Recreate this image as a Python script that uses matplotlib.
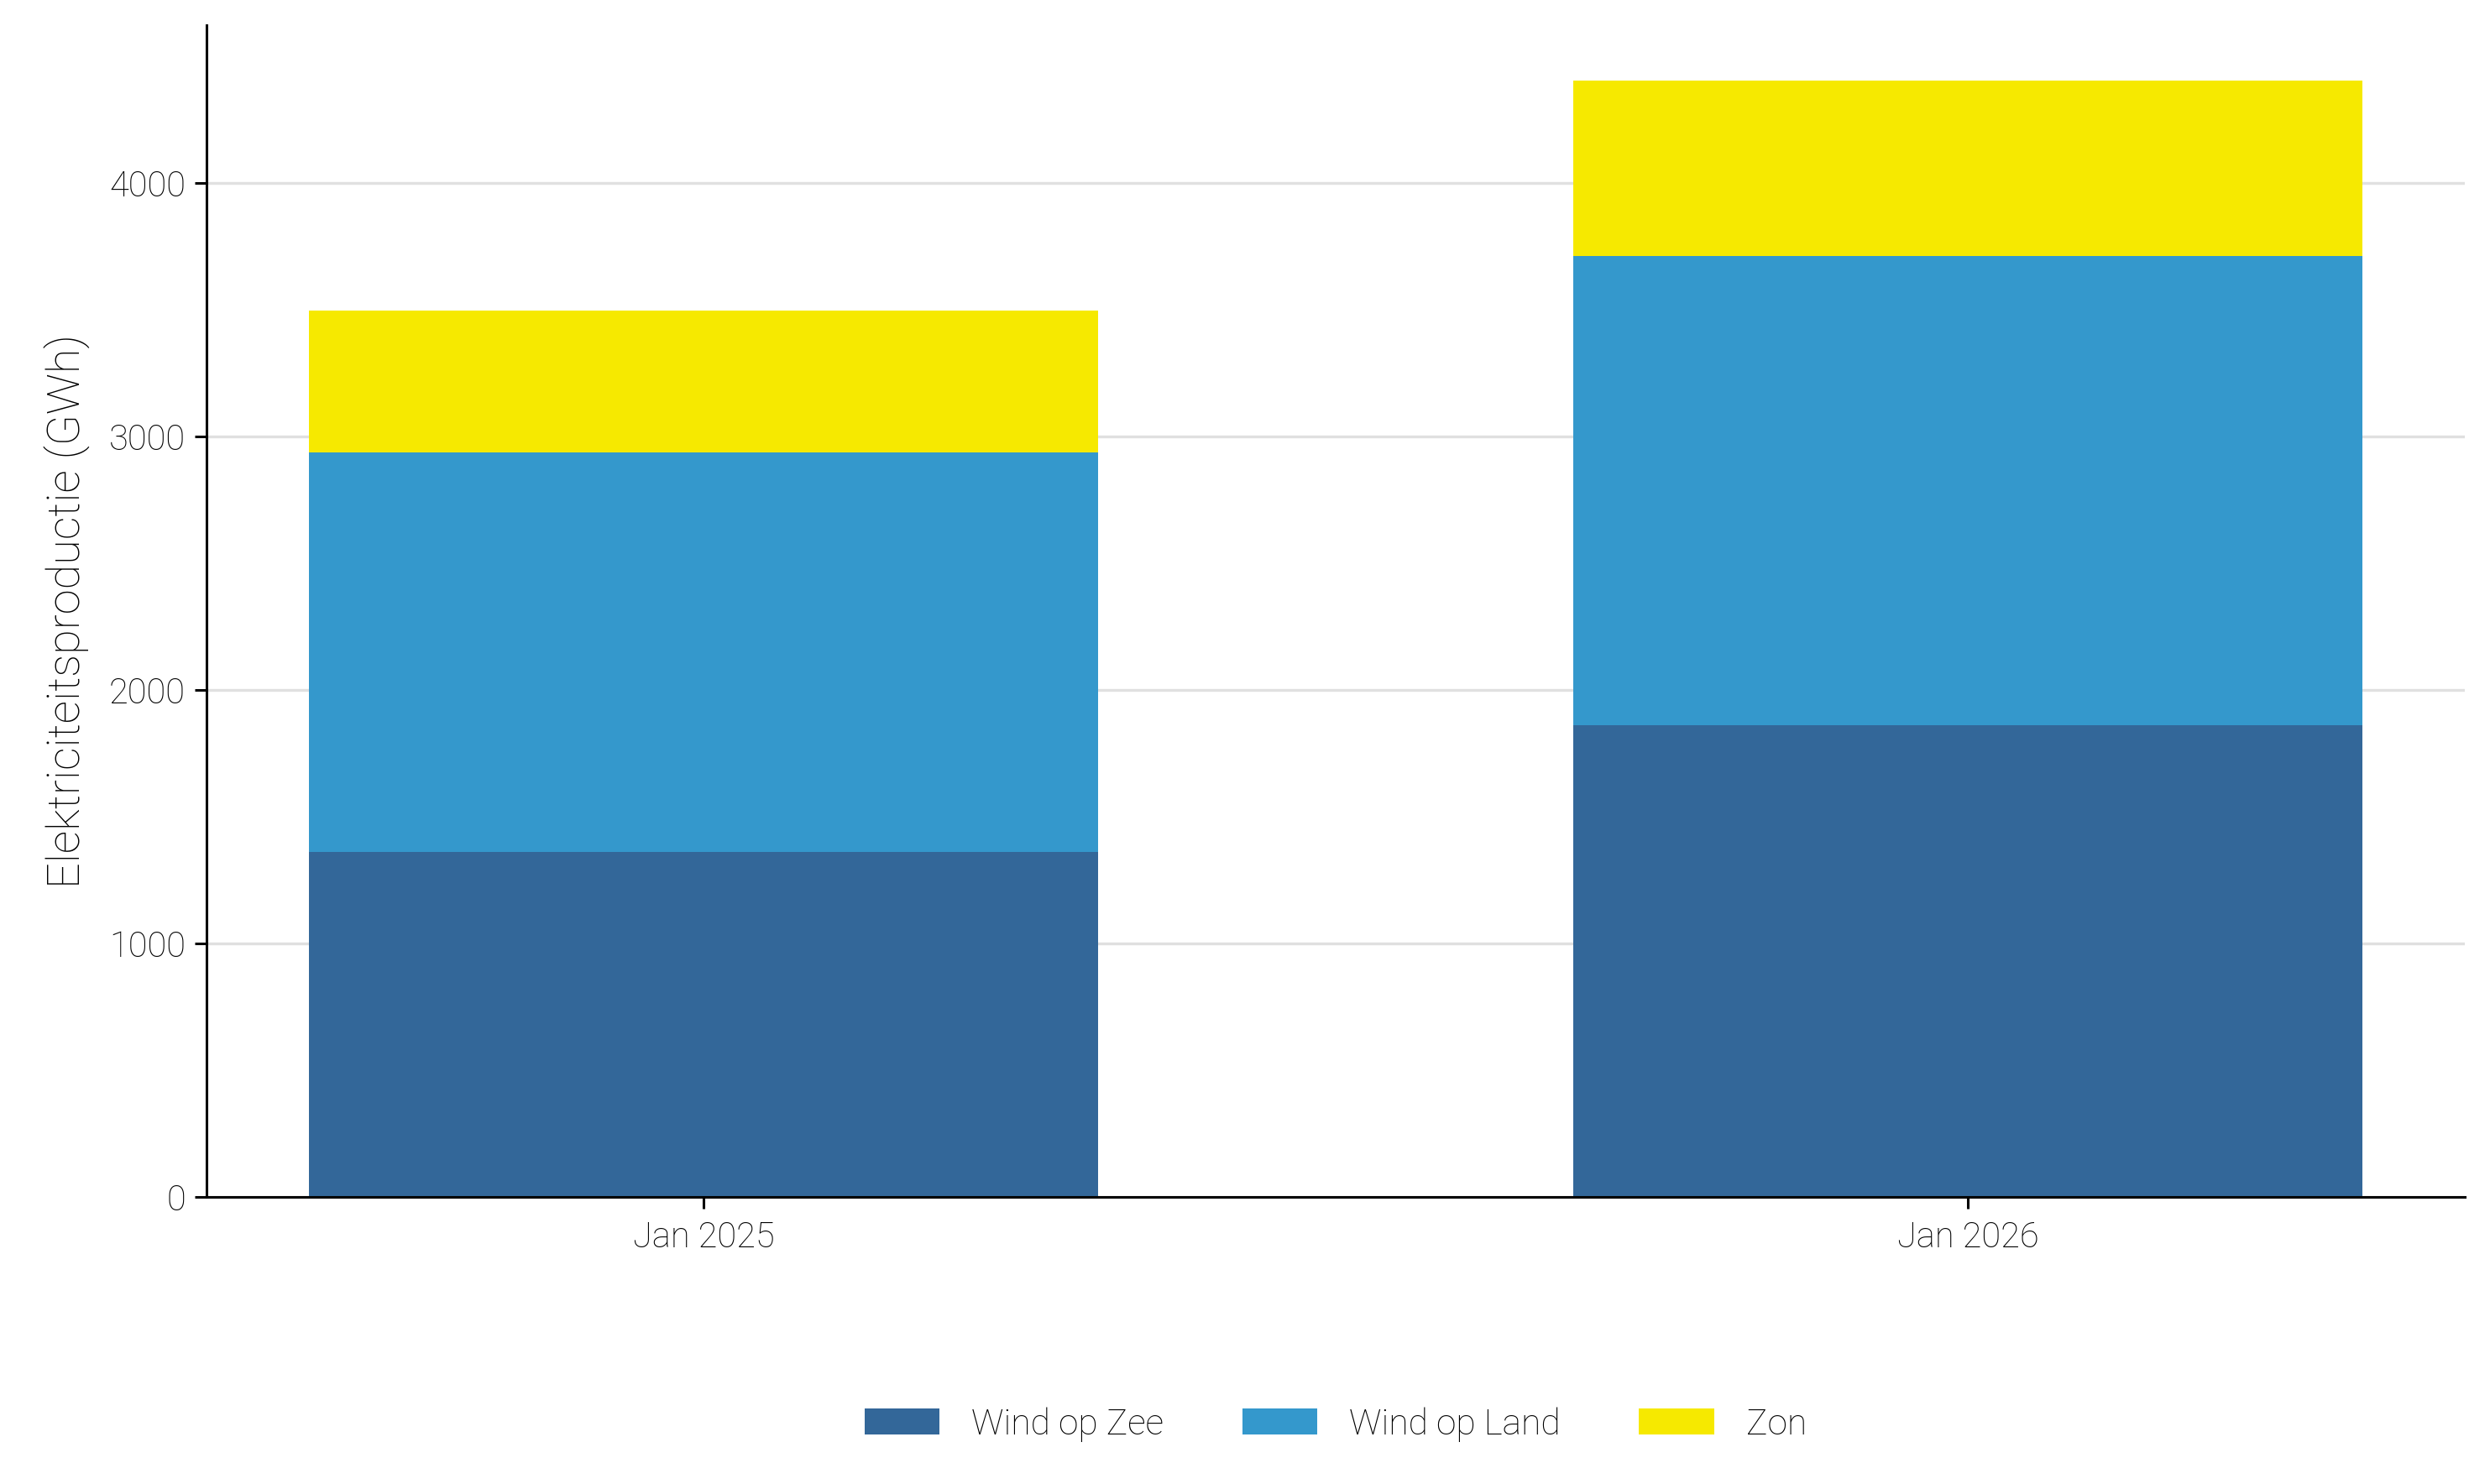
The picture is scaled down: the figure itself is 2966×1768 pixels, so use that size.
import matplotlib
matplotlib.use("Agg")
import matplotlib.pyplot as plt
import numpy as np

# data
maanden = ["Jan 2025", "Jan 2026"]
wind_op_zee = [1360, 1862]
wind_op_land = [1578, 1850]
zon = [560, 690]

series = ["Wind op Zee", "Wind op Land", "Zon"]
kleuren = ["#336799", "#3498cc", "#f6e900"]

plt.rcParams['font.family'] = ['Roboto', 'DejaVu Sans']
plt.rcParams['font.weight'] = 'light'

fig = plt.figure(figsize=(2966 / 200, 1768 / 200), dpi=200)
ax = fig.add_axes([246 / 2966, 1 - 1426 / 1768, (2936 - 246) / 2966, (1426 - 30) / 1768])

x = np.arange(len(maanden))
bottom = np.zeros(len(maanden))
for naam, waarden, kleur in zip(series, [wind_op_zee, wind_op_land, zon], kleuren):
    ax.bar(x, waarden, width=0.624, bottom=bottom, color=kleur, label=naam, zorder=2)
    bottom += np.array(waarden)

totaal = bottom.max()
ax.set_ylim(0, totaal * 1.05)
ax.set_xlim(-0.393, 1.393)
ax.set_yticks([0, 1000, 2000, 3000, 4000])
ax.set_xticks(x)
ax.set_xticklabels(maanden)

ax.grid(axis='y', color='#e0e0e0', linewidth=1.2, zorder=0)
ax.set_axisbelow(True)
for s in ['top', 'right']:
    ax.spines[s].set_visible(False)
for s in ['left', 'bottom']:
    ax.spines[s].set_linewidth(1.1)
    ax.spines[s].set_color('black')

ax.tick_params(axis='both', labelsize=15, length=5, width=1.1, color='black', labelcolor='black')
ax.tick_params(axis='x', pad=5)
ax.tick_params(axis='y', pad=4)

ax.set_ylabel("Elektriciteitsproductie (GWh)", fontsize=19.5, fontweight='light',
              color='black', labelpad=8)

# legend centred under the panel
midden = (246 + 2936) / 2 / 2966
fig.legend(loc='center', bbox_to_anchor=(midden, 1 - 1697 / 1768), ncol=3, frameon=False,
           handlelength=2.1, handleheight=0.75, handletextpad=0.9,
           columnspacing=2.2, prop={'size': 15.3, 'weight': 'light'}, labelcolor='black')

fig.savefig("out.png", dpi=200)
